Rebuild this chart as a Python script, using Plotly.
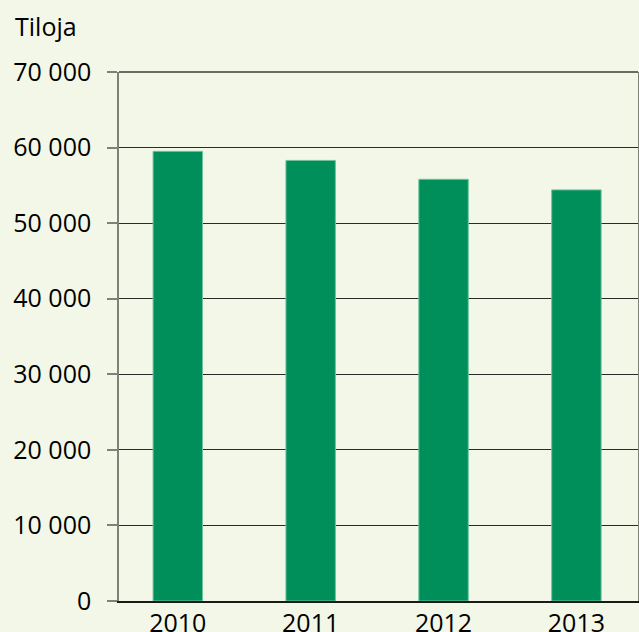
import plotly.graph_objects as go

years = [2010, 2011, 2012, 2013]
farms = [59500, 58300, 55800, 54400]
y_ticks = [0, 10000, 20000, 30000, 40000, 50000, 60000, 70000]
y_ticklabels = ["0", "10 000", "20 000", "30 000", "40 000", "50 000", "60 000", "70 000"]
y_title = "Tiloja"

BG = "#f3f7e7"
GREEN = "#008f5b"
FONT = "Open Sans"
FS = 25

fig = go.Figure()
fig.add_trace(go.Bar(
    x=years, y=farms, width=0.372,
    marker=dict(color=GREEN, line=dict(color="#6cc49c", width=1)),
))

fig.update_layout(
    width=639, height=632,
    margin=dict(l=119, r=1, t=72, b=31, autoexpand=False),
    paper_bgcolor=BG, plot_bgcolor=BG,
    showlegend=False,
    font=dict(family=FONT, size=FS, color="#000000"),
    xaxis=dict(
        range=[2009.5575, 2013.4635],
        tickvals=years, ticktext=[str(y) for y in years],
        showgrid=False, zeroline=False,
        showline=True, linecolor="#1a1a1a", linewidth=1.5,
        ticks="", ticklabelstandoff=-1, automargin=False,
        fixedrange=True,
    ),
    yaxis=dict(
        range=[0, 70000],
        tickvals=y_ticks, ticktext=y_ticklabels,
        showgrid=True, gridcolor="#2a2a2a", gridwidth=1,
        zeroline=False,
        showline=True, linecolor="#808078", linewidth=1.5, mirror=True,
        ticks="outside", ticklen=10, tickcolor="#808078", tickwidth=1.5,
        ticklabelstandoff=11, automargin=False,
        fixedrange=True,
    ),
    annotations=[dict(
        text=y_title, xref="paper", yref="paper", x=-106/519, y=1,
        xanchor="left", yanchor="bottom", yshift=27, showarrow=False,
        font=dict(family=FONT, size=FS, color="#000000"),
    )],
    shapes=[dict(type="line", xref="paper", yref="paper", x0=0, x1=1, y0=1, y1=1,
                 line=dict(color="#6b6b62", width=2))],
)

fig.write_html(
    "out.html",
    config={"displayModeBar": False},
    post_script="document.body.style.margin='0';document.body.style.background='#f3f7e7';",
)
